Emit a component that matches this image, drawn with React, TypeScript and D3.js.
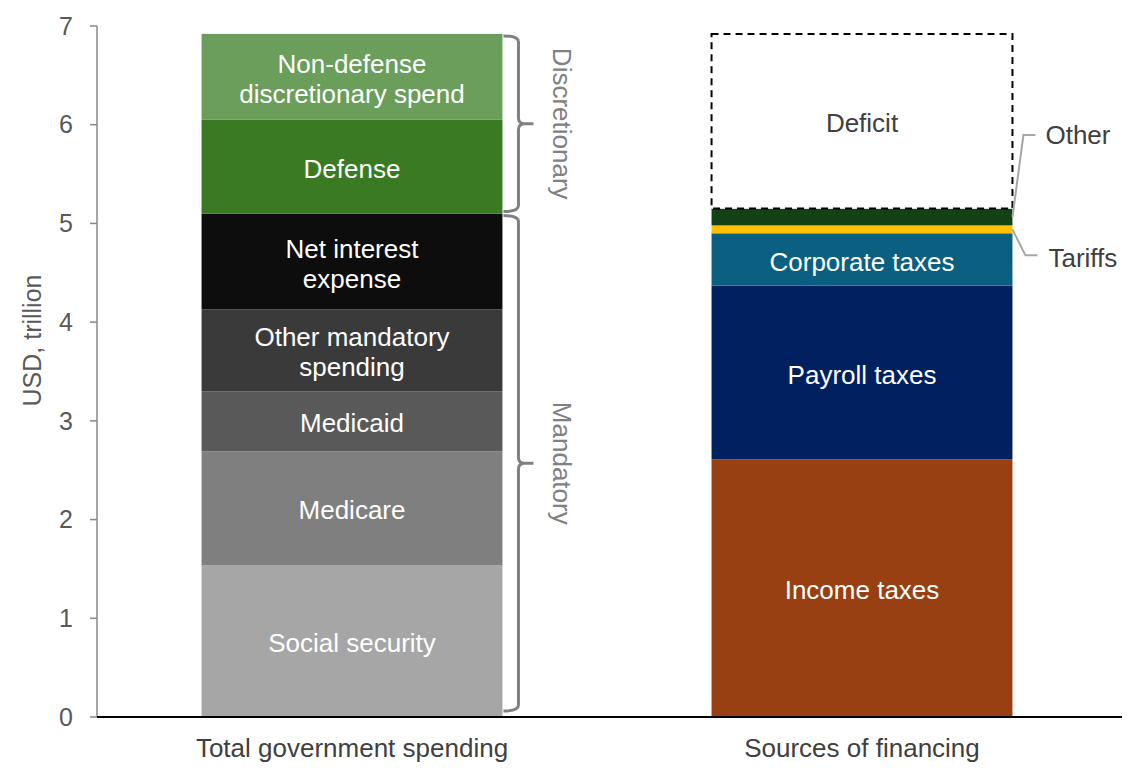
import React from "react";
import * as d3 from "d3";

const categories = ["Total government spending", "Sources of financing"];

const spendingLabels = [
  ["Social security"],
  ["Medicare"],
  ["Medicaid"],
  ["Other mandatory", "spending"],
  ["Net interest", "expense"],
  ["Defense"],
  ["Non-defense", "discretionary spend"],
];
const spendingValues = [1.54, 1.15, 0.61, 0.83, 0.97, 0.95, 0.87];
const spendingColors = ["#A6A6A6", "#7F7F7F", "#595959", "#3A3A3A", "#0D0D0D", "#3A7A22", "#6A9E5A"];

const financingLabels = ["Income taxes", "Payroll taxes", "Corporate taxes", "Tariffs", "Other", "Deficit"];
const financingValues = [2.61, 1.76, 0.53, 0.08, 0.17, 1.77];
const financingColors = ["#984011", "#002060", "#0B5F80", "#FFC000", "#124116", "none"];

const yTicks = [0, 1, 2, 3, 4, 5, 6, 7];

const brackets = [
  { label: "Mandatory", from: 0, to: 5.1 },
  { label: "Discretionary", from: 5.1, to: 6.92 },
];

const FONT = "'Liberation Sans', Arial, sans-serif";
const FS = 26;

function stack(values: number[]) {
  let acc = 0;
  return values.map((v) => {
    const s = { y0: acc, y1: acc + v };
    acc += v;
    return s;
  });
}

export default function App() {
  const W = 1127;
  const H = 771;
  const x = d3.scaleBand<string>().domain(categories).range([97, 1117]).paddingInner(0.41).paddingOuter(0.205);
  const y = d3.scaleLinear().domain([0, 7]).range([717, 26]);
  const bw = x.bandwidth();
  const xL = x(categories[0])!;
  const xR = x(categories[1])!;
  const sp = stack(spendingValues);
  const fi = stack(financingValues);

  const bracePath = (yTop: number, yBot: number) => {
    const x0 = xL + bw + 1;
    const xv = x0 + 15;
    const xt = xv + 15;
    const ym = (yTop + yBot) / 2;
    const r = 6;
    return `M${x0},${yTop} Q${xv},${yTop} ${xv},${yTop + r} L${xv},${ym - r} Q${xv},${ym} ${xv + r},${ym} L${xt},${ym} M${xv + r},${ym} Q${xv},${ym} ${xv},${ym + r} L${xv},${yBot - r} Q${xv},${yBot} ${x0},${yBot}`;
  };

  const rEdge = xR + bw;
  const otherMid = y((fi[4].y0 + fi[4].y1) / 2);
  const tariffMid = y((fi[3].y0 + fi[3].y1) / 2);

  return (
    <svg width={W} height={H} style={{ position: "absolute", left: 0, top: 0, background: "#fff" }}>
      {/* y axis */}
      <line x1={97} x2={97} y1={y(7)} y2={y(0)} stroke="#898989" strokeWidth={1.5} />
      {yTicks.map((t) => (
        <g key={t}>
          <line x1={90} x2={97} y1={y(t)} y2={y(t)} stroke="#898989" strokeWidth={1.5} />
          <text x={73} y={y(t)} dy="0.35em" textAnchor="end" fontFamily={FONT} fontSize={25} fill="#595959">
            {t}
          </text>
        </g>
      ))}
      <text
        transform={`translate(32,${y(3.5) - 31}) rotate(-90)`}
        textAnchor="middle"
        dy="0.35em"
        fontFamily={FONT}
        fontSize={25}
        fill="#595959"
      >
        USD, trillion
      </text>

      {/* spending bar */}
      {sp.map((s, i) => {
        const yc = (y(s.y0) + y(s.y1)) / 2;
        const lines = spendingLabels[i];
        return (
          <g key={"s" + i}>
            <rect x={xL} width={bw} y={y(s.y1)} height={y(s.y0) - y(s.y1)} fill={spendingColors[i]} />
            {lines.map((ln, j) => (
              <text
                key={j}
                x={xL + bw / 2}
                y={yc + 2 + (j - (lines.length - 1) / 2) * 30}
                dy="0.35em"
                textAnchor="middle"
                fontFamily={FONT}
                fontSize={FS}
                fill="#fff"
              >
                {ln}
              </text>
            ))}
          </g>
        );
      })}

      {/* financing bar */}
      {fi.map((s, i) => {
        const yc = (y(s.y0) + y(s.y1)) / 2;
        const isDeficit = financingLabels[i] === "Deficit";
        const small = financingLabels[i] === "Tariffs" || financingLabels[i] === "Other";
        return (
          <g key={"f" + i}>
            {isDeficit ? (
              <rect
                x={xR}
                width={bw}
                y={y(s.y1)}
                height={y(s.y0) - y(s.y1)}
                fill="#fff"
                stroke="#000"
                strokeWidth={2}
                strokeDasharray="7,5"
              />
            ) : (
              <rect x={xR} width={bw} y={y(s.y1)} height={y(s.y0) - y(s.y1)} fill={financingColors[i]} />
            )}
            {!small && (
              <text
                x={xR + bw / 2}
                y={yc + 2}
                dy="0.35em"
                textAnchor="middle"
                fontFamily={FONT}
                fontSize={FS}
                fill={isDeficit ? "#404040" : "#fff"}
              >
                {financingLabels[i]}
              </text>
            )}
          </g>
        );
      })}

      {/* leaders */}
      <path
        d={`M${rEdge},${otherMid} L${rEdge + 11},${otherMid - 82} L${rEdge + 23},${otherMid - 82}`}
        fill="none"
        stroke="#A6A6A6"
        strokeWidth={2}
      />
      <text x={rEdge + 33} y={otherMid - 82} dy="0.35em" fontFamily={FONT} fontSize={FS} fill="#404040">
        Other
      </text>
      <path
        d={`M${rEdge},${tariffMid} L${rEdge + 13},${tariffMid + 26} L${rEdge + 25},${tariffMid + 26}`}
        fill="none"
        stroke="#A6A6A6"
        strokeWidth={2}
      />
      <text x={rEdge + 36} y={tariffMid + 29} dy="0.35em" fontFamily={FONT} fontSize={FS} fill="#404040">
        Tariffs
      </text>

      {/* brackets */}
      {brackets.map((b, i) => {
        const yTop = y(b.to) + 2;
        const yBot = y(b.from) - (i === 0 ? 6 : 2);
        const ym = (yTop + yBot) / 2;
        return (
          <g key={b.label}>
            <path d={bracePath(yTop, yBot)} fill="none" stroke="#808080" strokeWidth={3} />
            <text
              transform={`translate(${xL + bw + 60},${ym}) rotate(90)`}
              textAnchor="middle"
              dy="0.35em"
              fontFamily={FONT}
              fontSize={FS}
              fill="#808080"
            >
              {b.label}
            </text>
          </g>
        );
      })}

      {/* x axis */}
      <line x1={97} x2={1122} y1={y(0)} y2={y(0)} stroke="#000" strokeWidth={2} />
      {categories.map((c) => (
        <text
          key={c}
          x={x(c)! + bw / 2}
          y={748}
          dy="0.35em"
          textAnchor="middle"
          fontFamily={FONT}
          fontSize={FS}
          fill="#404040"
        >
          {c}
        </text>
      ))}
    </svg>
  );
}
